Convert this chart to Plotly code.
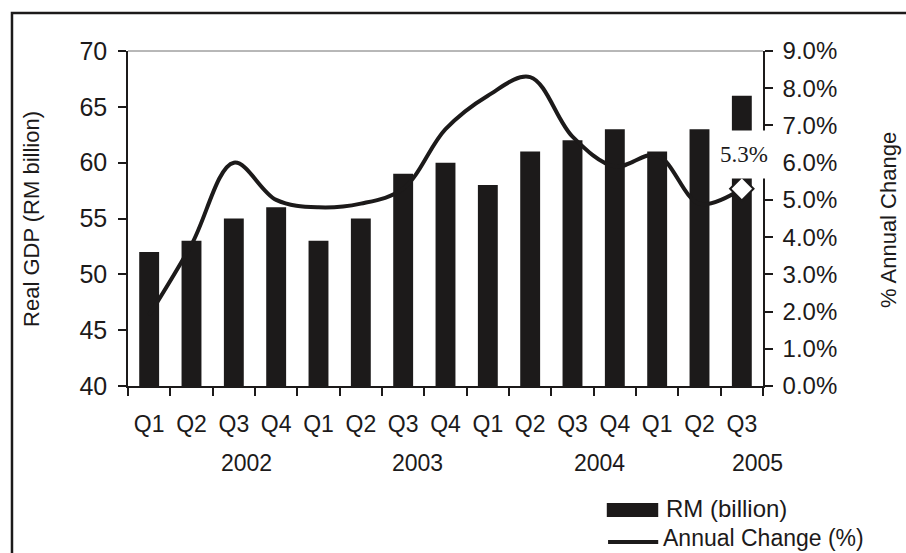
import plotly.graph_objects as go

quarters = ["Q1", "Q2", "Q3", "Q4", "Q1", "Q2", "Q3", "Q4", "Q1", "Q2", "Q3", "Q4", "Q1", "Q2", "Q3"]
years = ["2002", "2003", "2004", "2005"]
gdp_rm_billion = [52, 53, 55, 56, 53, 55, 59, 60, 58, 61, 62, 63, 61, 63, 66]
annual_change_pct = [1.9, 3.8, 6.0, 5.0, 4.8, 4.9, 5.3, 6.9, 7.8, 8.3, 6.7, 5.9, 6.2, 4.9, 5.3]

FONT = "Liberation Sans, Arial, sans-serif"
INK = "#1c1a1a"

x = list(range(len(quarters)))

fig = go.Figure()
fig.add_trace(go.Bar(x=x, y=gdp_rm_billion, width=0.47, marker=dict(color=INK, line=dict(width=0)),
                     name="RM (billion)", yaxis="y"))
fig.add_trace(go.Scatter(x=x, y=[v / 100 for v in annual_change_pct], mode="lines",
                         line=dict(color=INK, width=4, shape="spline", smoothing=1),
                         name="Annual Change (%)", yaxis="y2"))
fig.add_trace(go.Scatter(x=[x[-1]], y=[annual_change_pct[-1] / 100], mode="markers",
                         marker=dict(symbol="diamond", size=18, color="white", line=dict(color=INK, width=2)),
                         yaxis="y2", showlegend=False))

# year labels (positions along the category axis)
year_pos = [2.30, 6.34, 10.63, 14.37]
annotations = []
for lbl, p in zip(years, year_pos):
    annotations.append(dict(x=p, y=-0.23, xref="x", yref="paper", text=lbl, showarrow=False,
                            font=dict(family=FONT, size=23, color=INK), xanchor="center", yanchor="middle"))
# axis titles
annotations.append(dict(x=-0.152, y=0.5, xref="paper", yref="paper", text="Real GDP (RM billion)",
                        textangle=-90, showarrow=False, font=dict(family=FONT, size=22, color=INK),
                        xanchor="center", yanchor="middle"))
annotations.append(dict(x=1.1965, y=0.495, xref="paper", yref="paper", text="% Annual Change",
                        textangle=-90, showarrow=False, font=dict(family=FONT, size=22, color=INK),
                        xanchor="center", yanchor="middle"))
# last value label (white box also masks the axis behind it)
annotations.append(dict(x=x[-1], y=annual_change_pct[-1] / 100, xref="x", yref="y2",
                        text=f"{annual_change_pct[-1]:.1f}%", showarrow=False, yshift=34, xshift=2,
                        font=dict(family="Liberation Serif, Times New Roman, serif", size=23, color=INK),
                        bgcolor="white", width=60, height=45, xanchor="center", yanchor="middle"))
# manual legend
annotations.append(dict(x=0.8445, y=-0.367, xref="paper", yref="paper", text="RM (billion)", showarrow=False,
                        font=dict(family=FONT, size=24, color=INK), xanchor="left", yanchor="middle"))
annotations.append(dict(x=0.8415, y=-0.4945, xref="paper", yref="paper", text="Annual Change (%)", showarrow=False,
                        font=dict(family=FONT, size=23, color=INK), xanchor="left", yanchor="bottom",
                        borderpad=0))

shapes = [
    # outer frame
    dict(type="rect", xref="paper", yref="paper", x0=-0.1827, y0=-1.0, x1=1.5, y1=1.1134,
         line=dict(color=INK, width=2.5)),
    # top gridline
    dict(type="line", xref="paper", yref="paper", x0=0, x1=1, y0=1, y1=1,
         line=dict(color="#707070", width=1)),
    # legend swatches
    dict(type="rect", xref="paper", yref="paper", x0=0.754, x1=0.835, y0=-0.349, y1=-0.391,
         fillcolor=INK, line=dict(width=0)),
    dict(type="line", xref="paper", yref="paper", x0=0.756, x1=0.835, y0=-0.4655, y1=-0.4655,
         line=dict(color=INK, width=4)),
]

fig.update_layout(
    width=906, height=553,
    margin=dict(l=128, r=143, t=51, b=167),
    paper_bgcolor="white", plot_bgcolor="white",
    showlegend=False,
    xaxis=dict(range=[-0.5, len(quarters) - 0.5], tickvals=x, ticktext=quarters, ticks="",
               showgrid=False, zeroline=False, showline=True, linecolor=INK, linewidth=1.5,
               tickfont=dict(family=FONT, size=23, color=INK), ticklabelstandoff=17,
               minor=dict(tick0=0.5, dtick=1, ticks="outside", ticklen=8, tickcolor=INK, tickwidth=1.5,
                          showgrid=False)),
    yaxis=dict(range=[40, 70], dtick=5, ticks="outside", ticklen=8, tickcolor=INK, tickwidth=1.5,
               showgrid=False, zeroline=False, showline=True, linecolor=INK, linewidth=1.5,
               tickfont=dict(family=FONT, size=25, color=INK), ticklabelstandoff=6),
    yaxis2=dict(range=[0, 0.09], dtick=0.01, tickformat=".1%", overlaying="y", side="right",
                ticks="outside", ticklen=8, tickcolor=INK, tickwidth=1.5,
                showgrid=False, zeroline=False, showline=True, linecolor=INK, linewidth=1.5,
                tickfont=dict(family=FONT, size=24, color=INK), ticklabelstandoff=5),
    annotations=annotations,
    shapes=shapes,
)

fig.write_html("out.html")
